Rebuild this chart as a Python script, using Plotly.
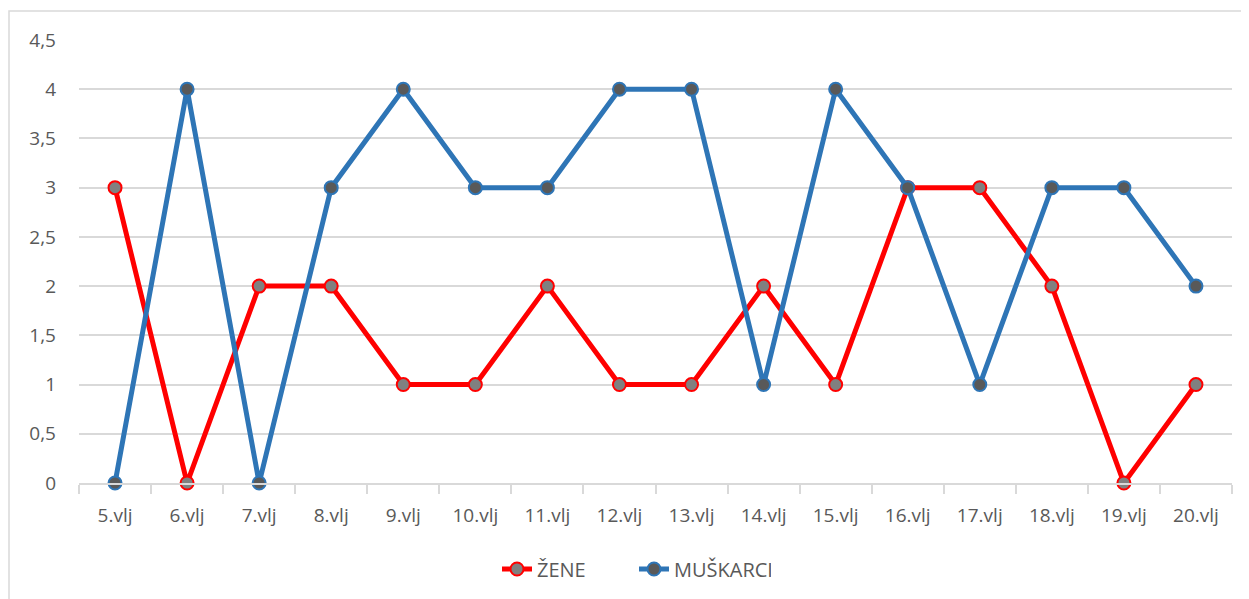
import plotly.graph_objects as go

categories = ["5.vlj", "6.vlj", "7.vlj", "8.vlj", "9.vlj", "10.vlj", "11.vlj", "12.vlj",
              "13.vlj", "14.vlj", "15.vlj", "16.vlj", "17.vlj", "18.vlj", "19.vlj", "20.vlj"]
zene = [3, 0, 2, 2, 1, 1, 2, 1, 1, 2, 1, 3, 3, 2, 0, 1]
muskarci = [0, 4, 0, 3, 4, 3, 3, 4, 4, 1, 4, 3, 1, 3, 3, 2]

# page body has an 8px margin; target pixel coords of the reference
OFF = 8
W, H = 1249 - OFF, 599 - OFF
PL, PR, PT, PB = 79, 1232, 40, 484  # plot area in screen px
L, T = PL - OFF, PT - OFF
R = (W + OFF) - PR
B = (H + OFF) - PB
pw, ph = PR - PL, PB - PT

font_fam = "Open Sans, Liberation Sans, sans-serif"

fig = go.Figure()
fig.add_trace(go.Scatter(
    x=categories, y=zene, name="ŽENE", mode="lines+markers", cliponaxis=False,
    line=dict(color="#ff0000", width=5),
    marker=dict(size=13, color="#808080", line=dict(color="#ff0000", width=2)),
))
fig.add_trace(go.Scatter(
    x=categories, y=muskarci, name="MUŠKARCI", mode="lines+markers", cliponaxis=False,
    line=dict(color="#2e75b6", width=5),
    marker=dict(size=13, color="#595959", line=dict(color="#2e75b6", width=2)),
))

fig.update_layout(
    width=W, height=H,
    margin=dict(l=L, r=R, t=T, b=B, pad=0),
    paper_bgcolor="white", plot_bgcolor="white",
    separators=",.",
    font=dict(family=font_fam, size=19, color="#595959"),
    showlegend=True,
    legend=dict(orientation="h", x=(634 - PL) / pw, xanchor="center", y=(PB - 569) / ph,
                yanchor="middle", font=dict(size=20, color="#595959"),
                traceorder="normal", entrywidth=92, entrywidthmode="pixels"),
    xaxis=dict(
        type="category", range=[-0.5, len(categories) - 0.5],
        showgrid=False, showline=True, linecolor="#d9d9d9", linewidth=2,
        ticks="outside", tickson="boundaries", ticklen=9, tickcolor="#d9d9d9",
        tickwidth=2, ticklabelstandoff=14, fixedrange=True,
        tickfont=dict(size=19, color="#595959"),
    ),
    yaxis=dict(
        range=[0, 4.5], dtick=0.5, tick0=0,
        showgrid=True, gridcolor="#d9d9d9", gridwidth=2,
        zeroline=False, showline=False, ticks="", ticklabelstandoff=22,
        fixedrange=True, tickfont=dict(size=19, color="#595959"),
    ),
    shapes=[dict(type="rect", xref="paper", yref="paper",
                 x0=(9 - PL) / pw, x1=(1260 - PL) / pw,
                 y0=(PB - 610) / ph, y1=(PB - 11) / ph,
                 line=dict(color="#d9d9d9", width=1.5), fillcolor="rgba(0,0,0,0)",
                 layer="below")],
)

fig.write_html("out.html")
